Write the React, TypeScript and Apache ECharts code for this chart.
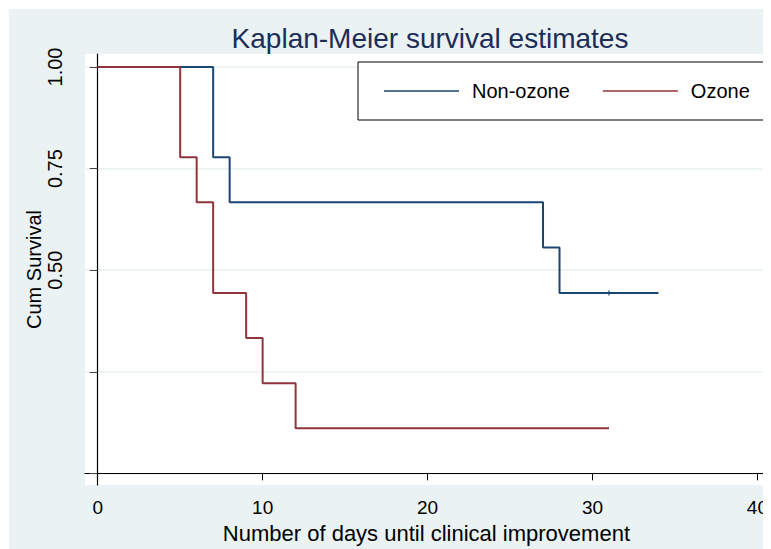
import React, { useEffect, useRef } from "react";
import * as echarts from "echarts";

const titleText = "Kaplan-Meier survival estimates";
const xTitle = "Number of days until clinical improvement";
const yTitle = "Cum Survival";

const nonOzoneTimes = [0, 7, 8, 27, 28, 34];
const nonOzoneSurv = [1, 0.778, 0.667, 0.556, 0.444, 0.444];
const nonOzoneCensorTimes = [31];
const nonOzoneCensorSurv = [0.444];

const ozoneTimes = [0, 5, 6, 7, 9, 10, 12, 31];
const ozoneSurv = [1, 0.778, 0.667, 0.444, 0.333, 0.222, 0.111, 0.111];

const xTicks = [0, 10, 20, 30, 40];
const yTicks = [0, 0.25, 0.5, 0.75, 1];
const yLabelValues = [0.5, 0.75, 1];

const NAVY = "#1a476f";
const MAROON = "#90353b";
const BG = "#eaf2f3";
const FONT = "'Liberation Sans', Arial, sans-serif";

export default function App() {
  const ref = useRef<HTMLDivElement>(null);
  useEffect(() => {
    if (!ref.current) return;
    const chart = echarts.init(ref.current, undefined, { renderer: "svg" });
    const pairs = (xs: number[], ys: number[]) => xs.map((x, i) => [x, ys[i]]);
    chart.setOption({
      animation: false,
      backgroundColor: BG,
      textStyle: { fontFamily: FONT },
      title: {
        text: titleText,
        left: 416,
        textAlign: "center",
        top: 10,
        textStyle: { fontFamily: FONT, fontSize: 28, fontWeight: "normal", color: "#1c2d57" },
      },
      legend: {
        data: ["Non-ozone", "Ozone"],
        left: 349,
        top: 53,
        orient: "horizontal",
        backgroundColor: "#ffffff",
        borderColor: "#000000",
        borderWidth: 1,
        borderRadius: 0,
        padding: [19, 19, 19, 26],
        itemWidth: 75,
        itemHeight: 1.5,
        itemGap: 33,
        icon: "rect",
        textStyle: { fontFamily: FONT, fontSize: 20, color: "#000", padding: [0, 0, 0, 8] },
      },
      grid: {
        left: 76,
        top: 45,
        right: 0,
        bottom: 62,
        show: true,
        backgroundColor: "#ffffff",
        borderWidth: 0,
      },
      xAxis: {
        type: "value",
        min: -0.77,
        max: 40.63,
        name: xTitle,
        nameLocation: "middle",
        nameGap: 37,
        nameTextStyle: { fontFamily: FONT, fontSize: 22, color: "#000" },
        axisLine: { show: true, lineStyle: { color: "#000", width: 1.2 } },
        axisTick: { show: true, customValues: xTicks, length: 7, lineStyle: { color: "#000" } },
        axisLabel: { customValues: xTicks, fontFamily: FONT, fontSize: 19, color: "#000", margin: 13 },
        splitLine: { show: false },
      },
      yAxis: {
        type: "value",
        min: -0.0287,
        max: 1.032,
        name: yTitle,
        nameLocation: "middle",
        nameRotate: 90,
        nameGap: 41,
        nameMoveOverlap: false,
        nameTextStyle: { fontFamily: FONT, fontSize: 20, color: "#000" },
        axisLine: { show: true, lineStyle: { color: "#000", width: 1.2 } },
        axisTick: { show: true, customValues: yTicks, length: 8, lineStyle: { color: "#444" } },
        axisLabel: {
          customValues: yLabelValues,
          rotate: 90,
          fontFamily: FONT,
          fontSize: 20,
          color: "#000",
          margin: 20,
          formatter: (v: number) => v.toFixed(2),
        },
        splitLine: { show: true, lineStyle: { color: BG, width: 1.5 } },
      },
      series: [
        {
          name: "Non-ozone",
          type: "line",
          step: "end",
          data: pairs(nonOzoneTimes, nonOzoneSurv),
          showSymbol: false,
          symbol: "none",
          color: NAVY,
          lineStyle: { color: NAVY, width: 2 },
          z: 3,
        },
        {
          name: "Ozone",
          type: "line",
          step: "end",
          data: pairs(ozoneTimes, ozoneSurv),
          showSymbol: false,
          symbol: "none",
          color: MAROON,
          lineStyle: { color: MAROON, width: 2 },
          z: 3,
        },
        {
          name: "censored",
          type: "scatter",
          data: pairs(nonOzoneCensorTimes, nonOzoneCensorSurv),
          symbol: "rect",
          symbolSize: [1.5, 5],
          itemStyle: { color: NAVY },
          z: 4,
        },
      ],
    });
    return () => chart.dispose();
  }, []);
  return <div ref={ref} style={{ width: 762, height: 540, marginLeft: 1, marginTop: 1 }} />;
}
